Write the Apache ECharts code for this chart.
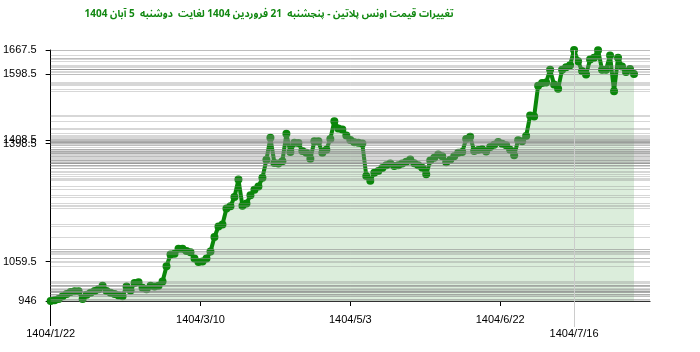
<!DOCTYPE html>
<html><head><meta charset="utf-8">
<script src="https://cdn.jsdelivr.net/npm/echarts@6/dist/echarts.min.js"></script>
<style>html,body{margin:0;padding:0;background:#fff}#c{width:700px;height:352px}</style>
</head><body><div id="c"></div>
<script>
const titleText = 'تغییرات قیمت اونس پلاتین - پنجشنبه  21 فروردین 1404 لغایت  دوشنبه  5 آبان 1404';

// daily prices (index = position along the time axis)
const prices = [
  946, 948, 952, 960, 966, 972, 974, 974, 952, 964,
  970, 975, 980, 990, 975, 970, 966, 962, 960, 988,
  976, 998, 1000, 984, 980, 990, 988, 990, 1002, 1046,
  1080, 1082, 1096, 1096, 1090, 1086, 1068, 1058, 1059.5, 1068,
  1088, 1130, 1160, 1166, 1212, 1218, 1245, 1295, 1220, 1226,
  1250, 1266, 1275, 1300, 1352, 1415, 1343, 1341, 1348, 1427,
  1374, 1401, 1400, 1377, 1372, 1355, 1405, 1405, 1372, 1381,
  1412, 1463, 1442, 1439, 1422, 1408.5, 1402, 1401, 1398.5, 1305,
  1292, 1315, 1320, 1328, 1336, 1341, 1334, 1336, 1341, 1346,
  1353, 1342, 1336, 1329, 1310, 1350, 1358, 1367, 1362, 1345,
  1352, 1362, 1372, 1374, 1412, 1418, 1377, 1380, 1382, 1376,
  1389, 1395, 1403, 1398, 1394, 1381, 1365, 1408, 1405, 1420,
  1479, 1476, 1565, 1573, 1574, 1611, 1568, 1556, 1611, 1618,
  1624, 1667.5, 1635, 1607, 1597, 1640, 1645, 1667, 1611, 1611,
  1652, 1549, 1645, 1620, 1604, 1613, 1598.5
];

const xMax = 150;
const tickPositions = [0, 37.5, 75, 112.5, 131];
const tickLabels = ['1404/1/22', '1404/3/10', '1404/5/3', '1404/6/22', '1404/7/16'];
const normalTicks = [37.5, 75, 112.5];
const startTick = [0];
const markedTick = [131];
const yTickValues = [946, 1059.5, 1398.5, 1408.5, 1598.5, 1667.5];

const labelFont = { fontFamily: 'Liberation Sans, Arial, sans-serif', fontSize: 11, color: '#000' };
const fmtX = v => { const k = tickPositions.indexOf(v); return k >= 0 ? tickLabels[k] : ''; };

function xAxisDef(vals, len, color, margin, showLine) {
  return {
    type: 'value', min: 0, max: xMax, position: 'bottom',
    axisLine: { show: showLine, onZero: false, lineStyle: { color: '#000', width: 1 } },
    axisTick: { show: true, customValues: vals, length: len, lineStyle: { color: color, width: 1 } },
    axisLabel: Object.assign({ customValues: vals, formatter: fmtX, margin: margin }, labelFont),
    splitLine: { show: false }
  };
}

const chart = echarts.init(document.getElementById('c'), null, { renderer: 'canvas' });
const series = [
  {
    type: 'line', z: 1, silent: true, symbol: 'none',
    data: prices.map((v, i) => [i, v]),
    lineStyle: { opacity: 0 },
    markLine: {
      silent: true, symbol: ['none', 'none'], animation: false,
      label: { show: false },
      lineStyle: { color: 'rgba(140,140,140,0.35)', width: 1, type: 'solid' },
      data: prices.map(v => ({ yAxis: v }))
    }
  },
  {
    type: 'line', z: 3, silent: true,
    data: prices.map((v, i) => [i, v]),
    symbol: 'circle', symbolSize: 8, showAllSymbol: true,
    lineStyle: { color: '#0a870a', width: 4 },
    itemStyle: { color: '#0a870a' },
    areaStyle: { color: 'rgba(0,128,0,0.2)', origin: 'start' },
    markLine: {
      silent: true, symbol: ['none', 'none'], animation: false,
      label: { show: false },
      lineStyle: { color: '#cccccc', width: 1, type: 'solid' },
      data: markedTick.map(v => ({ xAxis: v }))
    }
  }
];

chart.setOption({
  animation: false,
  backgroundColor: '#fff',
  title: {
    text: titleText, left: 264, top: 5, textAlign: 'center',
    textStyle: { fontFamily: 'Tahoma, "Noto Sans Arabic", "Noto Naskh Arabic", "DejaVu Sans Condensed", "DejaVu Sans", sans-serif', fontSize: 10, fontWeight: 'bold', color: '#118811' }
  },
  grid: { left: 50, right: 50, top: 50, bottom: 51, containLabel: false },
  xAxis: [
    xAxisDef(normalTicks, 5, '#000', 13, true),
    xAxisDef(startTick, 25, '#000', 27, false),
    xAxisDef(markedTick, 26, '#cccccc', 27, false)
  ],
  yAxis: {
    type: 'value', min: 946, max: 1667.5,
    axisLine: { show: true, onZero: false, lineStyle: { color: '#000', width: 1 } },
    axisTick: { show: true, customValues: yTickValues, length: 5, lineStyle: { color: '#000' } },
    axisLabel: Object.assign({ customValues: yTickValues, margin: 14, formatter: v => String(v) }, labelFont),
    splitLine: { show: false }
  },
  series: series
});
</script></body></html>
